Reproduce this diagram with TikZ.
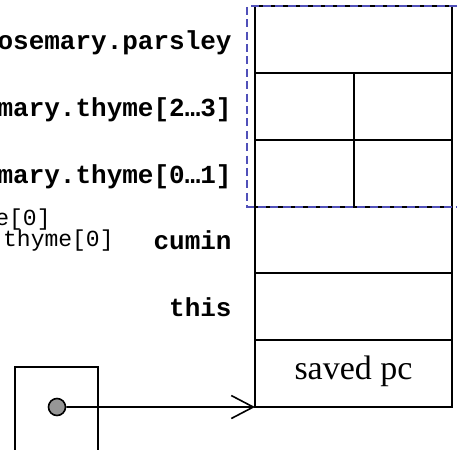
\documentclass[tikz,border=0pt]{standalone}
\usepackage{fontspec}
\setmonofont{Liberation Mono}
\newfontfamily\cellfont{Liberation Serif}
\usetikzlibrary{arrows.meta,positioning,calc}
\definecolor{dashblue}{RGB}{80,80,185}
\definecolor{dotgray}{RGB}{150,150,150}

\begin{document}
\begin{tikzpicture}[x=0.5pt,y=-0.5pt,
    slot/.style={draw, line width=1pt, minimum width=98.5pt, minimum height=33.42pt, inner sep=0pt, outer sep=0pt},
    half/.style={slot, minimum width=49.25pt},
    field/.style={anchor=base east, inner sep=0pt, font=\fontsize{13}{13}\selectfont\ttfamily\bfseries},
    elem/.style={anchor=base east, inner sep=0pt, font=\fontsize{11.5}{11.5}\selectfont\ttfamily}]
    \useasboundingbox (0,0) rectangle (459,449);

    % Frame slots, top to bottom
    \node[slot] (parsley) at (353.5,39.4) {};
    \node[half, below right=0pt of parsley.south west] (thymeHiA) {};
    \node[half, right=0pt of thymeHiA] (thymeHiB) {};
    \node[half, below=0pt of thymeHiA] (thymeLoA) {};
    \node[half, right=0pt of thymeLoA] (thymeLoB) {};
    \node[slot, below right=0pt of thymeLoA.south west] (cumin) {};
    \node[slot, below=0pt of cumin] (this) {};
    \node[slot, below=0pt of this, font=\fontsize{17}{17}\selectfont\cellfont, text height=11pt, text depth=5pt] (savedpc) {saved pc};

    % Field names
    \node[field] at ($(parsley.west)+(-23,10)$) {osemary.parsley};
    \node[field] at ($(thymeHiA.west)+(-23,10)$) {mary.thyme[2…3]};
    \node[field] at ($(thymeLoA.west)+(-23,10)$) {mary.thyme[0…1]};
    \node[field] at ($(cumin.west)+(-23,10)$) {cumin};
    \node[field] at ($(this.west)+(-23,10)$) {this};

    \node[elem] (elemA) at (51,225) {e[0]};
    \node[elem] (elemB) at (114,246) {thyme[0]};

    % Bracket round the rosemary part
    \coordinate (rtop) at ($(parsley.north west)+(-8,0)$);
    \coordinate (rbot) at ($(thymeLoA.south west)+(-8,0)$);
    \draw[dashblue, line width=1pt, dash pattern=on 4pt off 2.2pt]
        (rtop -| 457,0) -- (rtop) -- (rbot) -- (rbot -| 457,0);

    % Pointer box
    \draw[line width=0.8pt] (15,455) |- (98,367) -- (98,455);
    \node[circle, draw, line width=0.8pt, fill=dotgray, minimum size=8.5pt, inner sep=0pt] (ptr) at (57,407) {};
    \draw[line width=0.8pt, -{Straight Barb[length=11pt,width=11.5pt]}] (ptr) -- (savedpc.south west);
\end{tikzpicture}
\end{document}
